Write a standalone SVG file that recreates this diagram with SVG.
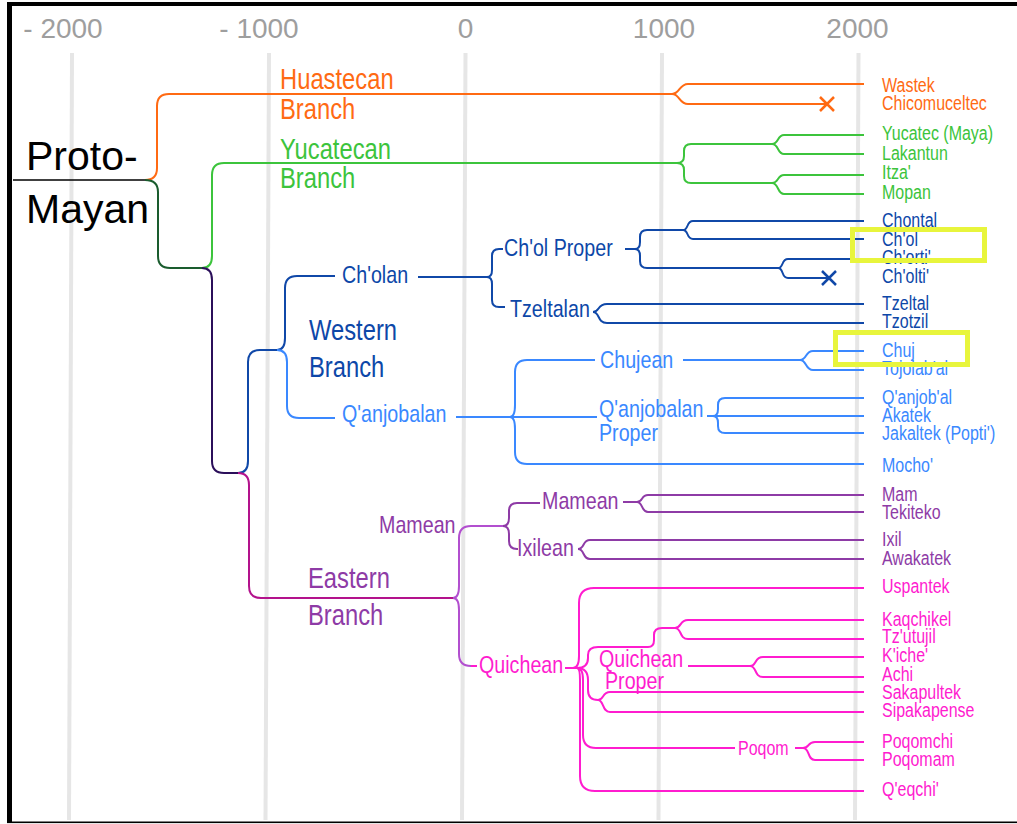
<svg xmlns="http://www.w3.org/2000/svg" width="1017" height="824" viewBox="0 0 1017 824">
<style>
text{font-family:"Liberation Sans",Arial,sans-serif}
.ax{font-size:28px;fill:#9e9e9e;text-anchor:middle}
.big{font-size:29px}
.mid{font-size:24px}
.leaf{font-size:19.5px}
.or{fill:#ff6a13}.gr{fill:#3cc43c}.db{fill:#0d47a8}.lb{fill:#3a88ff}.pu{fill:#8e3ba6}.mg{fill:#ff1ccf}
.grid{stroke:#e6e6e6;stroke-width:4}
#connectors path{fill:none;stroke-width:2}
.so{stroke:#ff6a13}.sg{stroke:#3cc43c}.sdg{stroke:#1a5c2e}.sdp{stroke:#2b0f5a}.sdb{stroke:#1048a8}.slb{stroke:#3a88ff}.sep{stroke:#b3128c}.slp{stroke:#b24fcf}.spu{stroke:#8e3ba6}.smg{stroke:#ff1ccf}
.box{fill:none;stroke:#e8f53c;stroke-width:5}
</style>
<rect x="0" y="0" width="1017" height="824" fill="#fff"/>
<g id="grid">
<line class="grid" x1="72" y1="53" x2="69" y2="820"/>
<line class="grid" x1="269" y1="53" x2="265.5" y2="820"/>
<line class="grid" x1="465.5" y1="53" x2="462" y2="820"/>
<line class="grid" x1="662" y1="53" x2="658.5" y2="820"/>
<line class="grid" x1="858.5" y1="53" x2="855" y2="820"/>
</g>
<g id="axis">
<text class="ax" x="63" y="38">- 2000</text>
<text class="ax" x="259" y="38">- 1000</text>
<text class="ax" x="465.5" y="38">0</text>
<text class="ax" x="664" y="38">1000</text>
<text class="ax" x="857.5" y="38">2000</text>
</g>
<g id="frame">
<rect x="7" y="2" width="1010" height="4" fill="#000"/>
<rect x="7" y="2" width="5" height="821" fill="#000"/>
<rect x="7" y="821.5" width="1010" height="1.6" fill="#000"/>
</g>
<g id="connectors">
<path d="M13,180 H147" stroke="#000" style="stroke-width:1.5"/>
<path class="so" d="M145,180 Q157,180 157,168 V106 Q157,94 169,94 H672"/>
<path class="so" d="M672,94 C680,94 679,84 688,84 H864"/>
<path class="so" d="M672,94 C680,94 679,104 688,104 H828"/>
<path class="so" style="stroke-width:2.5" d="M820,97 L834,111 M834,97 L820,111"/>
<path class="sdg" d="M145,180 Q158,180 158,192 V256 Q158,268 170,268 H202"/>
<path class="sg" d="M202,268 Q212,268 212,256 V175 Q212,163 224,163 H677"/>
<path class="sg" d="M677,163 Q684,163 684,156 V151 Q684,144 691,144 H774"/>
<path class="sg" d="M677,163 Q684,163 684,170 V176 Q684,183 691,183 H774"/>
<path class="sg" d="M772,144 C779,144 777,135 784,135 H864"/>
<path class="sg" d="M772,144 C779,144 777,154 784,154 H864"/>
<path class="sg" d="M772,183 C779,183 777,175 784,175 H864"/>
<path class="sg" d="M772,183 C779,183 777,194 784,194 H864"/>
<path class="sdp" d="M202,268 Q212,268 212,280 V461 Q212,473 224,473 H238"/>
<path class="sdb" d="M238,473 Q248,473 248,461 V362 Q248,350 260,350 H277"/>
<path class="sdb" d="M277,350 Q285,350 285,338 V288 Q285,276 297,276 H335"/>
<path class="sdb" d="M418,277 H487"/>
<path class="sdb" d="M487,277 Q492,277 492,270 V256 Q492,249 499,249 H503"/>
<path class="sdb" d="M487,277 Q492,277 492,284 V300 Q492,307 499,307 H505"/>
<path class="sdb" d="M625,249 H635"/>
<path class="sdb" d="M635,249 Q640,249 640,242 V237 Q640,230 647,230 H683"/>
<path class="sdb" d="M635,249 Q640,249 640,256 V261 Q640,268 647,268 H778"/>
<path class="sdb" d="M683,230 C689,230 686,221 693,221 H864"/>
<path class="sdb" d="M683,230 C689,230 686,239 693,239 H864"/>
<path class="sdb" d="M778,268 C784,268 781,259 788,259 H864"/>
<path class="sdb" d="M778,268 C784,268 781,278 788,278 H829"/>
<path class="sdb" style="stroke-width:2.5" d="M822,271 L836,285 M836,271 L822,285"/>
<path class="sdb" d="M593,312 C600,312 597,304 607,304 H864"/>
<path class="sdb" d="M593,312 C600,312 597,323 607,323 H864"/>
<path class="slb" d="M277,350 Q287,350 287,362 V406 Q287,418 299,418 H335"/>
<path class="slb" d="M456,417 H597"/>
<path class="slb" d="M510,417 Q515,417 515,405 V372 Q515,360 527,360 H595"/>
<path class="slb" d="M510,417 Q515,417 515,429 V452 Q515,464 527,464 H864"/>
<path class="slb" d="M683,360 H800"/>
<path class="slb" d="M800,360 C807,360 805,351 813,351 H864"/>
<path class="slb" d="M800,360 C807,360 805,370 813,370 H864"/>
<path class="slb" d="M707,416 H864"/>
<path class="slb" d="M713,416 Q718,416 718,409 V405 Q718,398 725,398 H864"/>
<path class="slb" d="M713,416 Q718,416 718,423 V426 Q718,433 725,433 H864"/>
<path class="sep" d="M238,473 Q249,473 249,485 V586 Q249,598 261,598 H453"/>
<path class="slp" d="M453,598 Q459,598 459,586 V538 Q459,526 471,526 H503"/>
<path class="slp" d="M453,598 Q459,598 459,610 V654 Q459,666 471,666"/>
<path class="smg" d="M471,666 H477"/>
<path class="spu" d="M503,526 Q509,526 509,518 V511 Q509,503 517,503 H540"/>
<path class="spu" d="M503,526 Q509,526 509,534 V541 Q509,549 517,549 H518"/>
<path class="spu" d="M623,502 H637"/>
<path class="spu" d="M637,502 C643,502 641,495 648,495 H864"/>
<path class="spu" d="M637,502 C643,502 641,512 648,512 H864"/>
<path class="spu" d="M578,549 C585,549 582,540 590,540 H864"/>
<path class="spu" d="M578,549 C585,549 582,559 590,559 H864"/>
<path class="smg" d="M565,668 H577"/>
<path class="smg" d="M573,668 Q579,668 579,656 V603 Q579,588 594,588 H864"/>
<path class="smg" d="M577,668 Q588,668 588,658 V655 Q588,647 598,647 H648 Q654,647 654,640 V635 Q654,628 662,628 H675"/>
<path class="smg" d="M675,628 C682,628 679,620 688,620 H864"/>
<path class="smg" d="M675,628 C682,628 679,639 688,639 H864"/>
<path class="smg" d="M688,666 H750"/>
<path class="smg" d="M750,666 C757,666 754,657 763,657 H864"/>
<path class="smg" d="M750,666 C757,666 754,677 763,677 H864"/>
<path class="smg" d="M577,668 Q588,668 588,680 V690 Q588,700 598,700 H600"/>
<path class="smg" d="M598,700 C604,700 602,692 610,692 H864"/>
<path class="smg" d="M598,700 C604,700 602,712 610,712 H864"/>
<path class="smg" d="M577,668 Q583,668 583,680 V735 Q583,748 596,748 H735"/>
<path class="smg" d="M795,748 H803"/>
<path class="smg" d="M803,748 C810,748 807,742 815,742 H864"/>
<path class="smg" d="M803,748 C810,748 807,760 815,760 H864"/>
<path class="smg" d="M577,668 Q580,668 580,680 V776 Q580,791 595,791 H864"/>
</g>
<g id="proto-mayan">
<text x="26" y="170" style="font-size:41px" fill="#000">Proto-</text>
<text x="26" y="223" style="font-size:41px" fill="#000">Mayan</text>
</g>
<g id="huastecan">
<text class="big or" transform="translate(280,89) scale(.82,1)">Huastecan</text>
<text class="big or" transform="translate(280,119) scale(.82,1)">Branch</text>
</g>
<g id="yucatecan">
<text class="big gr" transform="translate(280,159) scale(.82,1)">Yucatecan</text>
<text class="big gr" transform="translate(280,188) scale(.82,1)">Branch</text>
</g>
<g id="western">
<text class="big db" transform="translate(309,340) scale(.82,1)">Western</text>
<text class="big db" transform="translate(309,377) scale(.82,1)">Branch</text>
</g>
<g id="eastern">
<text class="big pu" transform="translate(308,588) scale(.82,1)">Eastern</text>
<text class="big pu" transform="translate(308,625) scale(.82,1)">Branch</text>
</g>
<g id="cholan"><text class="mid db" transform="translate(342,283) scale(.82,1)">Ch'olan</text></g>
<g id="chol-proper"><text class="mid db" transform="translate(504,256) scale(.82,1)">Ch'ol Proper</text></g>
<g id="tzeltalan"><text class="mid db" transform="translate(510,317) scale(.82,1)">Tzeltalan</text></g>
<g id="qanjobalan"><text class="mid lb" transform="translate(342,422) scale(.82,1)">Q'anjobalan</text></g>
<g id="chujean"><text class="mid lb" transform="translate(600,368) scale(.82,1)">Chujean</text></g>
<g id="qanjobalan-proper">
<text class="mid lb" transform="translate(599,417) scale(.82,1)">Q'anjobalan</text>
<text class="mid lb" transform="translate(599,441) scale(.82,1)">Proper</text>
</g>
<g id="mamean-group"><text class="mid pu" transform="translate(379,533) scale(.82,1)">Mamean</text></g>
<g id="mamean"><text class="mid pu" transform="translate(542,509) scale(.82,1)">Mamean</text></g>
<g id="ixilean"><text class="mid pu" transform="translate(517,556) scale(.82,1)">Ixilean</text></g>
<g id="quichean"><text class="mid mg" transform="translate(479,673) scale(.82,1)">Quichean</text></g>
<g id="quichean-proper">
<text class="mid mg" transform="translate(599,667) scale(.82,1)">Quichean</text>
<text class="mid mg" transform="translate(605,689) scale(.82,1)">Proper</text>
</g>
<g id="poqom"><text class="leaf mg" transform="translate(738,755) scale(.82,1)">Poqom</text></g>
<g id="leaves">
<g id="wastek"><text class="leaf or" transform="translate(882,92) scale(.82,1)">Wastek</text></g>
<g id="chicomuceltec"><text class="leaf or" transform="translate(882,110) scale(.82,1)">Chicomuceltec</text></g>
<g id="yucatec"><text class="leaf gr" transform="translate(882,140) scale(.82,1)">Yucatec (Maya)</text></g>
<g id="lakantun"><text class="leaf gr" transform="translate(882,160) scale(.82,1)">Lakantun</text></g>
<g id="itza"><text class="leaf gr" transform="translate(882,179) scale(.82,1)">Itza'</text></g>
<g id="mopan"><text class="leaf gr" transform="translate(882,199) scale(.82,1)">Mopan</text></g>
<g id="chontal"><text class="leaf db" transform="translate(882,227) scale(.82,1)">Chontal</text></g>
<g id="chol"><text class="leaf db" transform="translate(882,246) scale(.82,1)">Ch'ol</text></g>
<g id="chorti"><text class="leaf db" transform="translate(882,264) scale(.82,1)">Ch'orti'</text></g>
<g id="cholti"><text class="leaf db" transform="translate(882,283) scale(.82,1)">Ch'olti'</text></g>
<g id="tzeltal"><text class="leaf db" transform="translate(882,310) scale(.82,1)">Tzeltal</text></g>
<g id="tzotzil"><text class="leaf db" transform="translate(882,328) scale(.82,1)">Tzotzil</text></g>
<g id="chuj"><text class="leaf lb" transform="translate(882,357) scale(.82,1)">Chuj</text></g>
<g id="tojolabal"><text class="leaf lb" transform="translate(882,375) scale(.82,1)">Tojolab'al</text></g>
<g id="qanjobal"><text class="leaf lb" transform="translate(882,404) scale(.82,1)">Q'anjob'al</text></g>
<g id="akatek"><text class="leaf lb" transform="translate(882,422) scale(.82,1)">Akatek</text></g>
<g id="jakaltek"><text class="leaf lb" transform="translate(882,440) scale(.82,1)">Jakaltek (Popti')</text></g>
<g id="mocho"><text class="leaf lb" transform="translate(882,472) scale(.82,1)">Mocho'</text></g>
<g id="mam"><text class="leaf pu" transform="translate(882,501) scale(.82,1)">Mam</text></g>
<g id="tekiteko"><text class="leaf pu" transform="translate(882,519) scale(.82,1)">Tekiteko</text></g>
<g id="ixil"><text class="leaf pu" transform="translate(882,546) scale(.82,1)">Ixil</text></g>
<g id="awakatek"><text class="leaf pu" transform="translate(882,565) scale(.82,1)">Awakatek</text></g>
<g id="uspantek"><text class="leaf mg" transform="translate(882,593) scale(.82,1)">Uspantek</text></g>
<g id="kaqchikel"><text class="leaf mg" transform="translate(882,626) scale(.82,1)">Kaqchikel</text></g>
<g id="tzutujil"><text class="leaf mg" transform="translate(882,643) scale(.82,1)">Tz'utujil</text></g>
<g id="kiche"><text class="leaf mg" transform="translate(882,662) scale(.82,1)">K'iche'</text></g>
<g id="achi"><text class="leaf mg" transform="translate(882,681) scale(.82,1)">Achi</text></g>
<g id="sakapultek"><text class="leaf mg" transform="translate(882,699) scale(.82,1)">Sakapultek</text></g>
<g id="sipakapense"><text class="leaf mg" transform="translate(882,717) scale(.82,1)">Sipakapense</text></g>
<g id="poqomchi"><text class="leaf mg" transform="translate(882,748) scale(.82,1)">Poqomchi</text></g>
<g id="poqomam"><text class="leaf mg" transform="translate(882,766) scale(.82,1)">Poqomam</text></g>
<g id="qeqchi"><text class="leaf mg" transform="translate(882,796) scale(.82,1)">Q'eqchi'</text></g>
</g>
<g id="highlights">
<rect class="box" x="852.5" y="229.5" width="132" height="31"/>
<rect class="box" x="835.5" y="332.5" width="132" height="32"/>
</g>
</svg>
